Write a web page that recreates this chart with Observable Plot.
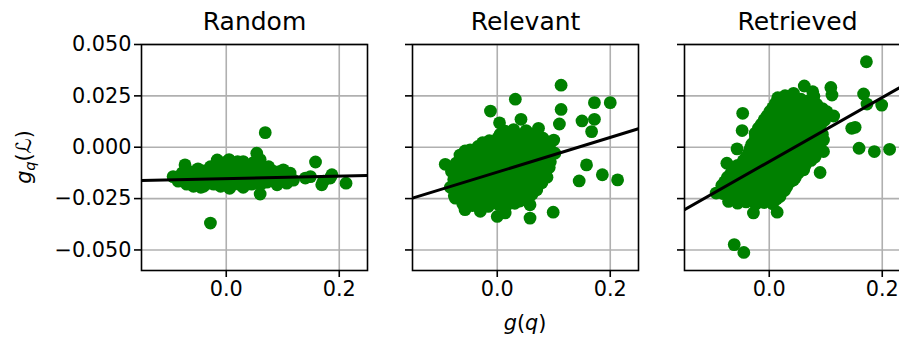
<!DOCTYPE html>
<html>
<head>
<meta charset="utf-8">
<script src="https://cdn.jsdelivr.net/npm/d3@7"></script>
<script src="https://cdn.jsdelivr.net/npm/@observablehq/plot@0.6"></script>
<style>
  html, body { margin: 0; padding: 0; background: white; }
  #wrap { position: relative; width: 899px; height: 338px; overflow: hidden; background: white; }
  #wrap svg { position: absolute; top: 0; }
</style>
</head>
<body>
<div id="wrap"></div>
<script>
// ---- data ----
const titles = ["Random", "Relevant", "Retrieved"];
const xTicks = [0.0, 0.2];
const yTicks = [-0.05, -0.025, 0.0, 0.025, 0.05];
const xDomain = [-0.15, 0.25];
const yDomain = [-0.06, 0.05];

const randomPts = [
  [-0.094,-0.0143],[-0.085,-0.0165],[-0.073,-0.0086],[-0.078,-0.0125],[-0.070,-0.0180],[-0.065,-0.0145],
  [-0.060,-0.0120],[-0.058,-0.0190],[-0.055,-0.0155],[-0.050,-0.0105],[-0.048,-0.0170],[-0.045,-0.0135],
  [-0.040,-0.0190],[-0.038,-0.0115],[-0.035,-0.0150],[-0.030,-0.0175],[-0.028,-0.0095],[-0.025,-0.0130],
  [-0.022,-0.0180],[-0.016,-0.0062],[-0.015,-0.0115],[-0.012,-0.0155],[-0.010,-0.0190],[-0.008,-0.0090],
  [-0.005,-0.0130],[-0.002,-0.0170],[0.000,-0.0105],[0.003,-0.0145],[0.006,-0.0200],[0.008,-0.0080],
  [0.010,-0.0125],[0.013,-0.0165],[0.016,-0.0095],[0.020,-0.0070],[0.020,-0.0140],[0.023,-0.0180],
  [0.025,-0.0110],[0.028,-0.0150],[0.030,-0.0195],[0.033,-0.0085],[0.035,-0.0125],[0.038,-0.0165],
  [0.040,-0.0100],[0.043,-0.0140],[0.045,-0.0180],[0.048,-0.0075],[0.050,-0.0120],[0.053,-0.0160],
  [0.054,-0.0029],[0.056,-0.0095],[0.058,-0.0135],[0.060,-0.0228],[0.061,-0.0180],[0.064,-0.0105],
  [0.066,-0.0150],[0.069,0.0071],[0.070,-0.0125],[0.072,-0.0170],[0.075,-0.0095],[0.078,-0.0140],
  [0.082,-0.0115],[0.085,-0.0165],[0.090,-0.0183],[0.092,-0.0120],[0.098,-0.0145],[0.101,-0.0110],
  [0.107,-0.0175],[0.110,-0.0145],[0.113,-0.0126],[0.119,-0.0160],[0.140,-0.0150],[0.149,-0.0143],
  [0.158,-0.0072],[0.169,-0.0183],[0.172,-0.0165],[0.184,-0.0150],[0.187,-0.0134],[0.212,-0.0175],
  [-0.028,-0.0369],[-0.045,-0.0195],[0.005,-0.0060],
  [-0.088,-0.0150],[-0.068,-0.0155],[-0.062,-0.0168],[-0.052,-0.0140],[-0.042,-0.0160],[-0.032,-0.0128],
  [-0.020,-0.0145],[-0.018,-0.0105],[-0.006,-0.0158],[0.002,-0.0122],[0.012,-0.0180],[0.015,-0.0140],
  [0.026,-0.0165],[0.032,-0.0105],[0.037,-0.0145],[0.046,-0.0100],[0.047,-0.0155],[0.055,-0.0175],
  [0.062,-0.0120],[0.068,-0.0100],[0.076,-0.0160],[0.080,-0.0125],[0.088,-0.0150],[0.095,-0.0130],
  [0.104,-0.0150],[0.112,-0.0160],[0.030,-0.0070],[-0.004,-0.0075],[0.060,-0.0060]
];

const relevantPts = [
  [0.113,0.0302],[0.032,0.0234],[-0.012,0.0176],[0.004,0.0119],[0.042,0.0136],[0.113,0.0184],
  [0.110,0.0113],[0.172,0.0217],[0.200,0.0217],[0.150,0.0128],[0.172,0.0136],[0.167,0.0076],
  [0.158,-0.0086],[0.145,-0.0164],[0.186,-0.0134],[0.213,-0.0159],[0.099,-0.0316],[0.058,-0.0345],
  [0.058,-0.0280],[-0.092,-0.0083],[0.000,-0.0337],[-0.057,-0.0304],[-0.030,-0.0312],[0.014,-0.0320],
  [-0.074,-0.0248],
  [-0.061,-0.0276],[-0.044,-0.0284],[-0.029,-0.0271],[-0.016,-0.0288],[0.002,-0.0279],[0.016,-0.0286],[0.031,-0.0273],
  [-0.052,-0.0262],[-0.037,-0.0257],[-0.022,-0.0265],[-0.007,-0.0259],[0.009,-0.0263],[0.024,-0.0256],[0.040,-0.0262],
  [-0.076,-0.0236],[-0.059,-0.0243],[-0.046,-0.0232],[-0.031,-0.0247],[-0.014,-0.0238],[0.001,-0.0244],
  [0.015,-0.0233],[0.029,-0.0241],[0.046,-0.0236],[0.062,-0.0228],
  [-0.068,-0.0218],[-0.053,-0.0224],[-0.038,-0.0216],[-0.023,-0.0223],[-0.007,-0.0217],[0.008,-0.0225],
  [0.022,-0.0219],[0.037,-0.0222],[0.054,-0.0215],
  [-0.083,-0.0195],[-0.069,-0.0203],[-0.054,-0.0197],[-0.037,-0.0206],[-0.022,-0.0194],[-0.008,-0.0201],
  [0.008,-0.0196],[0.023,-0.0204],[0.038,-0.0193],[0.052,-0.0199],[0.070,-0.0207],
  [-0.071,-0.0178],[-0.056,-0.0184],[-0.041,-0.0176],[-0.026,-0.0183],[-0.011,-0.0177],[0.004,-0.0185],
  [0.019,-0.0179],[0.034,-0.0182],[0.049,-0.0175],[0.064,-0.0181],[0.079,-0.0173],
  [-0.077,-0.0157],[-0.064,-0.0163],[-0.047,-0.0154],[-0.033,-0.0166],[-0.019,-0.0158],[-0.002,-0.0162],
  [0.012,-0.0153],[0.027,-0.0165],[0.043,-0.0156],[0.057,-0.0161],[0.073,-0.0152],[0.088,-0.0146],
  [-0.072,-0.0138],[-0.057,-0.0143],[-0.042,-0.0136],[-0.027,-0.0144],[-0.012,-0.0137],[0.004,-0.0142],
  [0.019,-0.0135],[0.034,-0.0143],[0.049,-0.0137],[0.064,-0.0141],[0.080,-0.0134],
  [-0.081,-0.0118],[-0.066,-0.0124],[-0.049,-0.0115],[-0.036,-0.0126],[-0.021,-0.0117],[-0.004,-0.0123],
  [0.011,-0.0114],[0.026,-0.0125],[0.039,-0.0118],[0.056,-0.0121],[0.071,-0.0113],[0.086,-0.0119],
  [-0.074,-0.0098],[-0.058,-0.0103],[-0.043,-0.0096],[-0.028,-0.0104],[-0.013,-0.0097],[0.003,-0.0102],
  [0.018,-0.0095],[0.033,-0.0103],[0.048,-0.0097],[0.063,-0.0101],[0.078,-0.0094],[0.092,-0.0099],
  [-0.073,-0.0078],[-0.058,-0.0084],[-0.041,-0.0076],[-0.028,-0.0085],[-0.011,-0.0077],[0.004,-0.0083],
  [0.019,-0.0074],[0.032,-0.0086],[0.048,-0.0079],[0.064,-0.0082],[0.079,-0.0075],[0.094,-0.0071],
  [-0.065,-0.0058],[-0.050,-0.0063],[-0.035,-0.0056],[-0.019,-0.0064],[-0.004,-0.0057],[0.012,-0.0062],
  [0.027,-0.0055],[0.041,-0.0063],[0.056,-0.0057],[0.071,-0.0061],[0.087,-0.0054],
  [-0.066,-0.0038],[-0.051,-0.0044],[-0.034,-0.0036],[-0.021,-0.0045],[-0.006,-0.0037],[0.011,-0.0043],
  [0.024,-0.0035],[0.041,-0.0046],[0.054,-0.0038],[0.071,-0.0041],[0.086,-0.0034],[0.102,-0.0029],
  [-0.057,-0.0018],[-0.042,-0.0023],[-0.027,-0.0016],[-0.012,-0.0024],[0.003,-0.0017],[0.018,-0.0022],
  [0.033,-0.0015],[0.048,-0.0023],[0.063,-0.0017],[0.078,-0.0021],[0.094,-0.0012],
  [-0.048,-0.0013],[-0.034,0.0004],[-0.018,0.0010],[-0.004,-0.0003],[0.011,0.0006],[0.026,-0.0005],
  [0.039,0.0008],[0.056,-0.0002],[0.071,0.0005],[0.089,0.0007],[0.100,0.0035],
  [-0.026,0.0022],[-0.010,0.0018],[0.006,0.0024],[0.021,0.0017],[0.036,0.0023],[0.052,0.0019],
  [0.067,0.0025],[0.083,0.0021],
  [-0.014,0.0032],[0.001,0.0045],[0.017,0.0052],[0.031,0.0038],[0.046,0.0047],[0.061,0.0036],[0.081,0.0044],
  [0.005,0.0063],[0.022,0.0068],[0.038,0.0061],[0.058,0.0066],[0.068,0.0059],
  [0.014,0.0078],[0.029,0.0086],[0.051,0.0081],[0.073,0.0092]
];

const retrievedPts = [
  [0.172,0.0416],[0.167,0.0259],[0.173,0.0210],[0.199,0.0205],[0.146,0.0092],[0.152,0.0097],
  [0.159,-0.0005],[0.186,-0.0021],[0.213,-0.0010],[0.090,-0.0123],[-0.062,-0.0474],[-0.045,-0.0512],
  [-0.028,-0.0320],[0.014,-0.0316],[-0.094,-0.0223],[-0.075,-0.0078],[-0.057,-0.0008],[-0.048,0.0081],
  [-0.047,0.0165],[-0.025,0.0068],[0.062,0.0298],[0.077,0.0270],[0.109,0.0291],[0.111,0.0254],
  [0.043,0.0262],[0.015,0.0241],[0.055,0.0197],[0.102,0.0173],[0.114,0.0152],[0.096,0.0035],
  [0.096,-0.0021],[0.019,-0.0240],[0.061,-0.0110],[0.043,-0.0159],
  [-0.072,-0.0264],[-0.056,-0.0272],[-0.041,-0.0266],[-0.024,-0.0278],[-0.009,-0.0269],[0.006,-0.0275],
  [-0.064,-0.0248],[-0.048,-0.0253],[-0.032,-0.0246],[-0.017,-0.0254],[-0.002,-0.0247],[0.013,-0.0252],
  [-0.081,-0.0226],[-0.066,-0.0234],[-0.049,-0.0228],[-0.034,-0.0237],[-0.019,-0.0225],[-0.004,-0.0232],[0.009,-0.0226],
  [-0.076,-0.0208],[-0.061,-0.0213],[-0.046,-0.0206],[-0.031,-0.0214],[-0.016,-0.0207],[0.000,-0.0212],
  [0.015,-0.0205],[0.027,-0.0211],
  [-0.084,-0.0186],[-0.069,-0.0194],[-0.054,-0.0185],[-0.039,-0.0196],[-0.026,-0.0188],[-0.011,-0.0193],
  [0.002,-0.0190],[0.018,-0.0184],[0.031,-0.0192],
  [-0.079,-0.0168],[-0.066,-0.0173],[-0.051,-0.0166],[-0.036,-0.0174],[-0.021,-0.0167],[-0.006,-0.0172],
  [0.009,-0.0165],[0.024,-0.0173],[0.038,-0.0167],
  [-0.074,-0.0146],[-0.061,-0.0154],[-0.044,-0.0147],[-0.029,-0.0156],[-0.016,-0.0145],[0.001,-0.0152],
  [0.014,-0.0144],[0.029,-0.0155],[0.046,-0.0148],
  [-0.068,-0.0128],[-0.054,-0.0133],[-0.039,-0.0126],[-0.024,-0.0134],[-0.009,-0.0127],[0.006,-0.0132],
  [0.021,-0.0125],[0.036,-0.0133],[0.051,-0.0127],
  [-0.063,-0.0106],[-0.049,-0.0114],[-0.034,-0.0105],[-0.019,-0.0116],[-0.006,-0.0108],[0.011,-0.0113],
  [0.024,-0.0104],[0.039,-0.0112],[0.052,-0.0106],
  [-0.056,-0.0088],[-0.041,-0.0093],[-0.026,-0.0086],[-0.011,-0.0094],[0.004,-0.0087],[0.019,-0.0092],
  [0.034,-0.0085],[0.049,-0.0093],[0.064,-0.0087],
  [-0.046,-0.0066],[-0.031,-0.0074],[-0.014,-0.0068],[0.001,-0.0075],[0.016,-0.0065],[0.029,-0.0073],
  [0.044,-0.0066],[0.059,-0.0071],[0.074,-0.0064],
  [-0.041,-0.0048],[-0.026,-0.0053],[-0.011,-0.0046],[0.006,-0.0054],[0.021,-0.0047],[0.036,-0.0052],
  [0.051,-0.0045],[0.066,-0.0053],[0.081,-0.0047],
  [-0.036,-0.0026],[-0.021,-0.0034],[-0.004,-0.0027],[0.009,-0.0035],[0.026,-0.0024],[0.041,-0.0033],
  [0.054,-0.0025],[0.071,-0.0031],[0.084,-0.0027],
  [-0.034,-0.0008],[-0.019,-0.0013],[-0.004,-0.0006],[0.011,-0.0014],[0.026,-0.0007],[0.041,-0.0012],
  [0.056,-0.0005],[0.069,-0.0012],[0.087,-0.0004],
  [-0.031,0.0014],[-0.014,0.0006],[0.001,0.0015],[0.016,0.0004],[0.029,0.0013],[0.046,0.0007],
  [0.061,0.0016],[0.074,0.0005],
  [-0.026,0.0032],[-0.009,0.0027],[0.006,0.0034],[0.021,0.0026],[0.036,0.0033],[0.051,0.0028],
  [0.066,0.0035],[0.081,0.0029],
  [-0.024,0.0054],[-0.011,0.0046],[0.006,0.0055],[0.019,0.0044],[0.036,0.0053],[0.049,0.0047],
  [0.066,0.0056],[0.081,0.0048],[0.094,0.0063],
  [-0.021,0.0072],[-0.006,0.0067],[0.009,0.0074],[0.024,0.0066],[0.039,0.0073],[0.054,0.0068],
  [0.069,0.0075],[0.084,0.0069],
  [-0.019,0.0094],[-0.004,0.0086],[0.011,0.0095],[0.024,0.0084],[0.041,0.0093],[0.054,0.0087],
  [0.071,0.0096],[0.086,0.0091],
  [-0.014,0.0112],[0.001,0.0107],[0.016,0.0114],[0.031,0.0106],[0.046,0.0113],[0.061,0.0108],
  [0.076,0.0115],[0.091,0.0110],
  [-0.009,0.0134],[0.006,0.0126],[0.021,0.0135],[0.034,0.0124],[0.051,0.0133],[0.064,0.0127],
  [0.081,0.0136],[0.098,0.0131],
  [-0.004,0.0152],[0.011,0.0147],[0.026,0.0154],[0.041,0.0146],[0.056,0.0153],[0.071,0.0148],[0.086,0.0155],
  [0.001,0.0174],[0.016,0.0166],[0.031,0.0175],[0.044,0.0168],[0.072,0.0177],[0.089,0.0169],
  [0.006,0.0192],[0.021,0.0187],[0.036,0.0194],[0.051,0.0186],[0.071,0.0193],[0.094,0.0188],
  [0.011,0.0214],[0.026,0.0206],[0.041,0.0215],[0.061,0.0212],[0.084,0.0209],
  [0.021,0.0232],[0.036,0.0227],[0.056,0.0234],[0.071,0.0228],
  [0.028,0.0251],[0.079,0.0248]
];

// fitted regression lines (endpoints)
const fitX = [-0.15, 0.25];
const fitRandomY = [-0.0162, -0.0138];
const fitRelevantY = [-0.0248, 0.0090];
const fitRetrievedY = [-0.0304, 0.0320];

// ---- drawing ----
const FONT = "DejaVu Sans";
const panels = [
  {title: titles[0], pts: randomPts, fitY: fitRandomY, left: 0, mL: 141, labels: true},
  {title: titles[1], pts: relevantPts, fitY: fitRelevantY, left: 392, mL: 20, labels: false},
  {title: titles[2], pts: retrievedPts, fitY: fitRetrievedY, left: 664, mL: 20, labels: false}
];
const FRAME_W = 226, MR = 6;
const wrap = document.getElementById("wrap");
const yFmt = d3.format(".3f");
const xFmt = d3.format(".1f");

const svgs = panels.map(p => {
  const fit = fitX.map((x, i) => ({x, y: p.fitY[i]}));
  const svg = Plot.plot({
    width: p.mL + FRAME_W + MR,
    height: 338,
    marginLeft: p.mL,
    marginRight: MR,
    marginTop: 44,
    marginBottom: 68,
    style: {background: "transparent", fontFamily: FONT, fontSize: "20.8px", maxWidth: "none", overflow: "visible", color: "black"},
    x: {domain: xDomain},
    y: {domain: yDomain},
    marks: [
      Plot.gridX(xTicks, {stroke: "#b0b0b0", strokeOpacity: 1, strokeWidth: 1.6}),
      Plot.gridY(yTicks, {stroke: "#b0b0b0", strokeOpacity: 1, strokeWidth: 1.6}),
      Plot.dot(p.pts, {x: d => d[0], y: d => d[1], r: 6.4, fill: "#008000", stroke: "none"}),
      Plot.line(fit, {x: "x", y: "y", stroke: "black", strokeWidth: 3, clip: true}),
      Plot.frame({stroke: "black", strokeWidth: 1.6}),
      Plot.axisX(xTicks, {tickSize: 7, tickPadding: 4, strokeWidth: 1.6, tickFormat: xFmt, label: null}),
      Plot.axisY(yTicks, {tickSize: 7, tickPadding: 3, strokeWidth: 1.6, tickFormat: p.labels ? yFmt : () => "", label: null}),
      Plot.text([p.title], {frameAnchor: "top", dy: -23, fontSize: 25, lineAnchor: "middle", fill: "black"})
    ]
  });
  svg.style.left = p.left + "px";
  wrap.appendChild(svg);
  return svg;
});

// y axis label g_q(L)
const yl = d3.select(svgs[0]).append("text")
  .attr("transform", "translate(31,157) rotate(-90)")
  .attr("text-anchor", "middle")
  .attr("font-family", FONT).attr("font-size", 20.8).attr("fill", "black");
yl.append("tspan").attr("font-style", "italic").text("g");
yl.append("tspan").attr("font-style", "italic").attr("font-size", 14.6).attr("dy", 4).text("q");
yl.append("tspan").attr("dy", -4).text("(");
yl.append("tspan").text("ℒ");
yl.append("tspan").text(")");

// x axis label g(q)
const xl = d3.select(svgs[1]).append("text")
  .attr("x", 20 + FRAME_W / 2).attr("y", 330)
  .attr("text-anchor", "middle")
  .attr("font-family", FONT).attr("font-size", 20.8).attr("fill", "black");
xl.append("tspan").attr("font-style", "italic").text("g");
xl.append("tspan").text("(");
xl.append("tspan").attr("font-style", "italic").text("q");
xl.append("tspan").text(")");
</script>
</body>
</html>
